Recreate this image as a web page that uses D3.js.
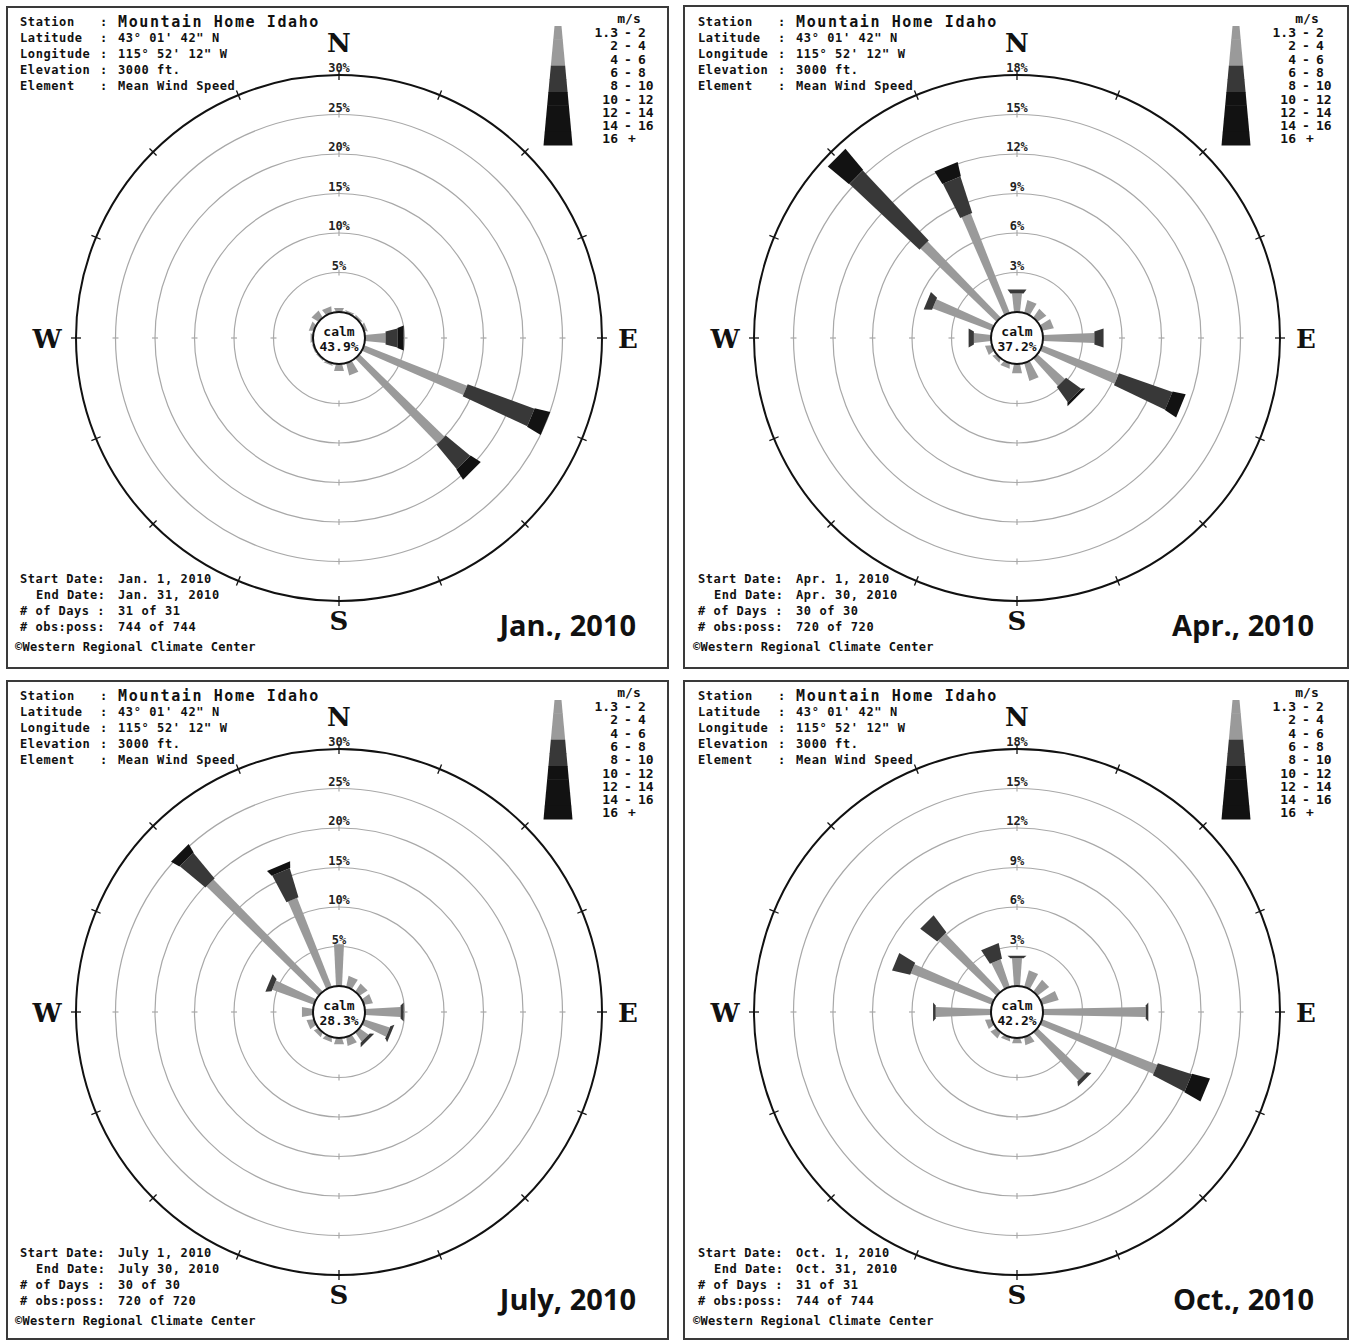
<!DOCTYPE html>
<html>
<head>
<meta charset="utf-8">
<script src="https://cdn.jsdelivr.net/npm/d3@7"></script>
<style>
  body { margin: 0; background: #fff; }
  svg { display: block; }
</style>
</head>
<body>
<svg></svg>
<script>
// 16 compass points, clockwise from north
const directions = ["N","NNE","NE","ENE","E","ESE","SE","SSE","S","SSW","SW","WSW","W","WNW","NW","NNW"];

// legend classes (m/s) and the grey tone each one is printed in
const legendClasses = ["1.3 - 2","2 - 4","4 - 6","6 - 8","8 - 10","10 - 12","12 - 14","14 - 16","16 +"];
const legendTone = [0, 0, 0, 1, 1, 2, 2, 2, 2];
const toneColors = ["#9a9a9a", "#383838", "#121212"];

// percent of hours per direction, split in light / mid / dark speed bands
const janLight = [0.5, 0.3, 0.3, 0.4, 2.6, 14.0, 15.0, 1.6, 0.9, 0.3, 0.2, 0.2, 0.3, 0.6, 1.0, 0.8];
const janMid   = [0, 0, 0, 0, 1.5, 9.0, 4.0, 0, 0, 0, 0, 0, 0, 0, 0, 0];
const janDark  = [0, 0, 0, 0, 0.8, 2.0, 1.5, 0, 0, 0, 0, 0, 0, 0, 0, 0];

const aprLight = [1.4, 1.0, 0.8, 0.9, 3.9, 6.2, 2.8, 1.4, 0.7, 0.4, 0.3, 0.5, 1.3, 4.8, 8.0, 8.1];
const aprMid   = [0.3, 0, 0, 0, 0.7, 4.3, 1.4, 0, 0, 0, 0, 0, 0.4, 0.6, 7.3, 2.9];
const aprDark  = [0, 0, 0, 0, 0, 1.0, 0.2, 0, 0, 0, 0, 0, 0, 0, 2.1, 1.1];

const julLight = [5.3, 1.4, 1.2, 1.1, 4.5, 3.4, 1.4, 1.1, 0.8, 0.6, 0.6, 0.9, 1.4, 5.6, 19.8, 12.1];
const julMid   = [0, 0, 0, 0, 0.4, 0.4, 0.4, 0, 0, 0, 0, 0, 0, 0.7, 4.2, 3.8];
const julDark  = [0, 0, 0, 0, 0, 0, 0, 0, 0, 0, 0, 0, 0, 0, 1.2, 0.8];

const octLight = [2.1, 1.3, 1.1, 1.3, 7.8, 9.4, 5.0, 0.6, 0.4, 0.3, 0.5, 0.5, 4.2, 6.6, 6.1, 2.2];
const octMid   = [0.2, 0, 0, 0, 0.2, 2.7, 0.3, 0, 0, 0, 0, 0, 0.2, 1.4, 1.6, 1.2];
const octDark  = [0, 0, 0, 0, 0, 1.4, 0, 0, 0, 0, 0, 0, 0, 0, 0, 0];

const months = ["Jan., 2010", "Apr., 2010", "July, 2010", "Oct., 2010"];
const calmPct = [43.9, 37.2, 28.3, 42.2];
const ringMax = [30, 18, 30, 18];
const ringStep = [5, 3, 5, 3];
const startDates = ["Jan. 1, 2010", "Apr. 1, 2010", "July 1, 2010", "Oct. 1, 2010"];
const endDates = ["Jan. 31, 2010", "Apr. 30, 2010", "July 30, 2010", "Oct. 31, 2010"];
const dayCounts = ["31 of 31", "30 of 30", "30 of 30", "31 of 31"];
const obsCounts = ["744 of 744", "720 of 720", "720 of 720", "744 of 744"];

const headerLabels = ["Station", "Latitude", "Longitude", "Elevation", "Element"];
const headerValues = ["Mountain Home Idaho", "43\u00b0 01' 42\" N", "115\u00b0 52' 12\" W", "3000 ft.", "Mean Wind Speed"];

const allData = [
  [janLight, janMid, janDark],
  [aprLight, aprMid, aprDark],
  [julLight, julMid, julDark],
  [octLight, octMid, octDark]
];

const svg = d3.select("svg").attr("width", 1353).attr("height", 1341);
const mono = "'DejaVu Sans Mono', monospace";

const offsets = [[0, 0], [678, 0], [0, 674], [678, 674]];
const frames = [[7, 7, 661, 661], [684, 6, 664, 662], [7, 681, 661, 658], [684, 681, 664, 658]];
const cx = 339, cy = 338, R = 263, rCalm = 26;

// half widths of each band at its inner and outer end
const bandWidth = [[3, 5], [6.5, 9.5], [10, 12.5]];

frames.forEach(f => {
  svg.append("rect").attr("x", f[0]).attr("y", f[1]).attr("width", f[2]).attr("height", f[3])
    .attr("fill", "none").attr("stroke", "#3a3a3a").attr("stroke-width", 2);
});

allData.forEach((bands, i) => drawPanel(i, bands));

function drawPanel(i, bands) {
  const g = svg.append("g").attr("transform", `translate(${offsets[i][0]},${offsets[i][1]})`);
  const r = d3.scaleLinear().domain([0, ringMax[i]]).range([rCalm, R]);
  const angle = d3.scalePoint().domain(directions).range([0, 337.5]);

  // header
  const head = g.append("g").attr("font-family", mono).attr("font-weight", "bold").attr("fill", "#111");
  headerLabels.forEach((t, k) => {
    const y = 26 + k * 16;
    head.append("text").attr("x", 20).attr("y", y).attr("font-size", 12).attr("letter-spacing", 0.6).text(t);
    head.append("text").attr("x", 100).attr("y", y).attr("font-size", 12).text(":");
    head.append("text").attr("x", 118).attr("y", y + (k === 0 ? 1 : 0))
      .attr("font-size", k === 0 ? 15 : 12)
      .attr("letter-spacing", k === 0 ? 1.6 : 0.6).text(headerValues[k]);
  });

  // footer
  const footLabels = ["Start Date:", "End Date:", "# of Days :", "# obs:poss:"];
  const footValues = [startDates[i], endDates[i], dayCounts[i], obsCounts[i]];
  footLabels.forEach((t, k) => {
    const y = 583 + k * 16;
    head.append("text").attr("x", k === 1 ? 36 : 20).attr("y", y).attr("font-size", 12).attr("letter-spacing", 0.5).text(t);
    head.append("text").attr("x", 118).attr("y", y).attr("font-size", 12).attr("letter-spacing", 0.6).text(footValues[k]);
  });
  head.append("text").attr("x", 15).attr("y", 651).attr("font-size", 12).attr("letter-spacing", 0.3)
    .text("\u00a9Western Regional Climate Center");

  // month title
  g.append("text").attr("x", 636).attr("y", 636).attr("text-anchor", "end")
    .attr("font-family", "'Open Sans', sans-serif").attr("font-weight", "bold").attr("font-size", 29)
    .attr("fill", "#111").text(months[i]);

  // rings
  const rings = d3.range(ringStep[i], ringMax[i], ringStep[i]);
  g.selectAll(".ring").data(rings).join("circle")
    .attr("cx", cx).attr("cy", cy).attr("r", d => r(d))
    .attr("fill", "none").attr("stroke", "#a8a8a8").attr("stroke-width", 1.2);
  rings.forEach(d => {
    [0, 90, 180, 270].forEach(a => {
      const rad = a * Math.PI / 180, rr = r(d);
      g.append("line")
        .attr("x1", cx + Math.sin(rad) * (rr - 3)).attr("y1", cy - Math.cos(rad) * (rr - 3))
        .attr("x2", cx + Math.sin(rad) * (rr + 3)).attr("y2", cy - Math.cos(rad) * (rr + 3))
        .attr("stroke", "#a8a8a8").attr("stroke-width", 1.2);
    });
  });

  // outer circle with ticks
  g.append("circle").attr("cx", cx).attr("cy", cy).attr("r", r(ringMax[i]))
    .attr("fill", "none").attr("stroke", "#111").attr("stroke-width", 2);
  directions.forEach(d => {
    const rad = angle(d) * Math.PI / 180, rr = r(ringMax[i]);
    g.append("line")
      .attr("x1", cx + Math.sin(rad) * (rr - 5)).attr("y1", cy - Math.cos(rad) * (rr - 5))
      .attr("x2", cx + Math.sin(rad) * (rr + 5)).attr("y2", cy - Math.cos(rad) * (rr + 5))
      .attr("stroke", "#111").attr("stroke-width", 1.3);
  });

  // ring labels
  rings.concat([ringMax[i]]).forEach(d => {
    g.append("text").attr("x", cx).attr("y", cy - r(d) - 3).attr("text-anchor", "middle")
      .attr("font-family", mono).attr("font-size", 12).attr("font-weight", "bold")
      .attr("fill", "#222").text(d + "%");
  });

  // compass letters
  const cl = [["N", cx, 52], ["E", 628, cy + 10], ["S", cx, 630], ["W", 47, cy + 10]];
  cl.forEach(c => {
    g.append("text").attr("x", c[1]).attr("y", c[2]).attr("text-anchor", "middle")
      .attr("font-family", "'DejaVu Serif', serif").attr("font-weight", "bold").attr("font-size", 26)
      .attr("fill", "#111").text(c[0]);
  });

  // petals
  directions.forEach((d, di) => {
    const rad = angle(d) * Math.PI / 180;
    const ux = Math.sin(rad), uy = -Math.cos(rad), vx = Math.cos(rad), vy = Math.sin(rad);
    let cum = 0;
    bands.forEach((band, b) => {
      const v = band[di];
      if (v <= 0) return;
      const r0 = r(cum), r1 = r(cum + v);
      cum += v;
      const w0 = bandWidth[b][0], w1 = bandWidth[b][1];
      const pts = [
        [cx + ux * r0 + vx * w0, cy + uy * r0 + vy * w0],
        [cx + ux * r1 + vx * w1, cy + uy * r1 + vy * w1],
        [cx + ux * r1 - vx * w1, cy + uy * r1 - vy * w1],
        [cx + ux * r0 - vx * w0, cy + uy * r0 - vy * w0]
      ];
      g.append("path").attr("d", d3.line()(pts) + "Z").attr("fill", toneColors[b]);
    });
  });

  // calm circle
  g.append("circle").attr("cx", cx).attr("cy", cy).attr("r", rCalm)
    .attr("fill", "#fff").attr("stroke", "#111").attr("stroke-width", 2);
  g.append("text").attr("x", cx).attr("y", cy - 2).attr("text-anchor", "middle")
    .attr("font-family", mono).attr("font-weight", "bold").attr("font-size", 13).attr("fill", "#111").text("calm");
  g.append("text").attr("x", cx).attr("y", cy + 13).attr("text-anchor", "middle")
    .attr("font-family", mono).attr("font-weight", "bold").attr("font-size", 13).attr("fill", "#111")
    .text(calmPct[i].toFixed(1) + "%");

  // legend wedge
  const ly = d3.scaleLinear().domain([0, legendClasses.length]).range([26, 145]);
  const lw = d3.scaleLinear().domain([0, legendClasses.length]).range([3.5, 14.5]);
  const lx = 558;
  legendClasses.forEach((c, k) => {
    const pts = [[lx - lw(k), ly(k)], [lx + lw(k), ly(k)], [lx + lw(k + 1), ly(k + 1) + 0.5], [lx - lw(k + 1), ly(k + 1) + 0.5]];
    g.append("path").attr("d", d3.line()(pts) + "Z").attr("fill", toneColors[legendTone[k]]);
  });
  const lt = g.append("g").attr("font-family", mono).attr("font-weight", "bold").attr("font-size", 13).attr("fill", "#111");
  lt.append("text").attr("x", 629).attr("y", 23).attr("text-anchor", "middle").text("m/s");
  legendClasses.forEach((c, k) => {
    const y = 37 + k * 13.3;
    const parts = c.split(" ");
    lt.append("text").attr("x", 618).attr("y", y).attr("text-anchor", "end").text(parts[0]);
    if (parts.length === 3) {
      lt.append("text").attr("x", 628).attr("y", y).attr("text-anchor", "middle").text("-");
      lt.append("text").attr("x", 638).attr("y", y).text(parts[2]);
    } else {
      lt.append("text").attr("x", 632).attr("y", y).attr("text-anchor", "middle").text(parts[1]);
    }
  });
}
</script>
</body>
</html>
